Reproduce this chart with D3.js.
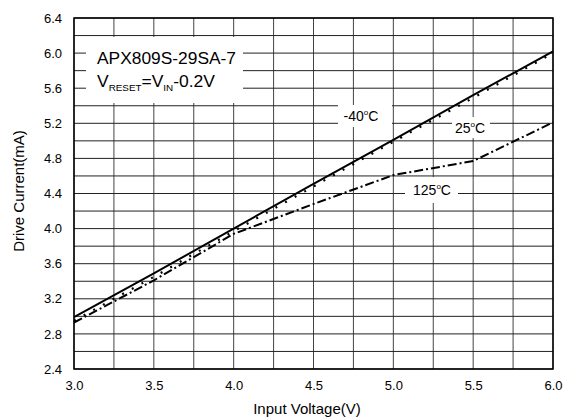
<!DOCTYPE html>
<html><head><meta charset="utf-8">
<script src="https://cdn.jsdelivr.net/npm/d3@7"></script>
<style>body{margin:0;background:#fff}svg{display:block;font-family:"Liberation Sans",Arial,sans-serif}</style>
</head><body>
<svg id="c" width="566" height="420"></svg>
<script>
const voltage = [3.0, 3.5, 4.0, 4.5, 5.0, 5.5, 6.0];
const currentM40 = [2.99, 3.49, 4.00, 4.51, 5.01, 5.52, 6.02];
const current25 = [2.95, 3.45, 3.97, 4.48, 4.99, 5.49, 6.00];
const current125 = [2.93, 3.41, 3.94, 4.28, 4.61, 4.77, 5.21];
const xTicks = [3.0, 3.5, 4.0, 4.5, 5.0, 5.5, 6.0];
const yTicks = [2.4, 2.8, 3.2, 3.6, 4.0, 4.4, 4.8, 5.2, 5.6, 6.0, 6.4];
const xGrid = d3.range(3.0, 6.001, 0.25);
const yGrid = d3.range(2.4, 6.401, 0.2);

const svg = d3.select("#c");
const L = 74, R = 553, T = 18, B = 369;
const x = d3.scaleLinear().domain([3, 6]).range([L, R]);
const y = d3.scaleLinear().domain([2.4, 6.4]).range([B, T]);

const g = svg.append("g");
g.selectAll(".vg").data(xGrid).join("line")
  .attr("x1", d => x(d)).attr("x2", d => x(d)).attr("y1", T).attr("y2", B)
  .attr("stroke", "#444").attr("stroke-width", 1);
g.selectAll(".hg").data(yGrid).join("line")
  .attr("x1", L).attr("x2", R).attr("y1", d => y(d)).attr("y2", d => y(d))
  .attr("stroke", "#222").attr("stroke-width", 1);

// label backgrounds
const boxes = [
  {x0: 86, y0: 37, x1: 243, y1: 103},
  {x0: 338, y0: 105, x1: 392, y1: 127},
  {x0: 452, y0: 117, x1: 490, y1: 138},
  {x0: 405, y0: 177, x1: 458, y1: 203}
];
svg.selectAll(".bx").data(boxes).join("rect")
  .attr("x", d => d.x0).attr("y", d => d.y0)
  .attr("width", d => d.x1 - d.x0).attr("height", d => d.y1 - d.y0)
  .attr("fill", "#fff");

svg.append("rect").attr("x", L).attr("y", T).attr("width", R - L).attr("height", B - T)
  .attr("fill", "none").attr("stroke", "#000").attr("stroke-width", 1.5);

const line = d3.line().x((d, i) => x(voltage[i])).y(d => y(d));
svg.append("path").attr("d", line(current125)).attr("fill", "none")
  .attr("stroke", "#000").attr("stroke-width", 2).attr("stroke-dasharray", "9,3,2,3");
svg.append("path").attr("d", line(currentM40)).attr("fill", "none")
  .attr("stroke", "#000").attr("stroke-width", 2);
svg.append("path").attr("d", line(current25)).attr("fill", "none")
  .attr("stroke", "#000").attr("stroke-width", 2.2).attr("stroke-dasharray", "2,9");

// axes
const xa = svg.append("g").attr("transform", `translate(0,${B})`)
  .call(d3.axisBottom(x).tickValues(xTicks).tickFormat(d3.format(".1f")).tickSize(0).tickPadding(12));
const ya = svg.append("g").attr("transform", `translate(${L},0)`)
  .call(d3.axisLeft(y).tickValues(yTicks).tickFormat(d3.format(".1f")).tickSize(0).tickPadding(12));
[xa, ya].forEach(a => {
  a.select(".domain").remove();
  a.selectAll("text").attr("font-size", 13).attr("fill", "#000")
    .attr("font-family", "Liberation Sans, Arial, sans-serif");
});

svg.append("text").attr("x", 307).attr("y", 414).attr("text-anchor", "middle")
  .attr("font-size", 15).text("Input Voltage(V)");
svg.append("text").attr("transform", `translate(24,191) rotate(-90)`)
  .attr("text-anchor", "middle").attr("font-size", 15).text("Drive Current(mA)");

// annotation
svg.append("text").attr("x", 97).attr("y", 64).attr("font-size", 16)
  .attr("textLength", 139).attr("lengthAdjust", "spacingAndGlyphs").text("APX809S-29SA-7");
const t2 = svg.append("text").attr("x", 97).attr("y", 87).attr("font-size", 16)
  .attr("textLength", 118).attr("lengthAdjust", "spacingAndGlyphs");
t2.append("tspan").text("V");
t2.append("tspan").attr("font-size", 9).attr("dy", 4).text("RESET");
t2.append("tspan").attr("dy", -4).text("=V");
t2.append("tspan").attr("font-size", 9).attr("dy", 4).text("IN");
t2.append("tspan").attr("dy", -4).text("-0.2V");

function degLabel(cx, by, num) {
  const t = svg.append("text").attr("x", cx).attr("y", by).attr("text-anchor", "middle").attr("font-size", 14);
  t.append("tspan").text(num);
  t.append("tspan").attr("font-size", 8).attr("dy", -6).text("o");
  t.append("tspan").attr("dy", 6).text("C");
}
degLabel(361, 121, "-40");
degLabel(470, 133, "25");
degLabel(432, 195, "125");
</script>
</body></html>
